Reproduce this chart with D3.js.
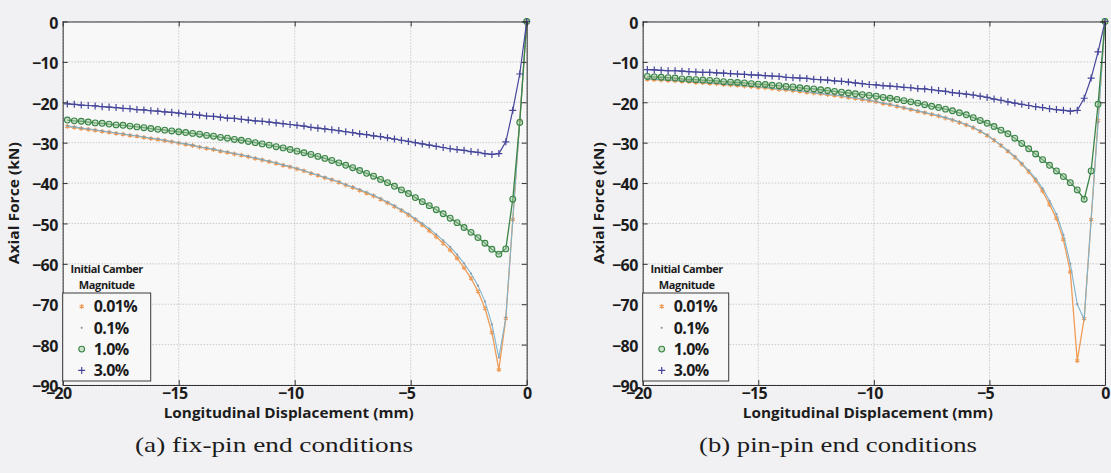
<!DOCTYPE html>
<html>
<head>
<meta charset="utf-8">
<script src="https://cdn.jsdelivr.net/npm/d3@7"></script>
<style>
    body { margin: 0; background: #f1f1f3; }
    .tick text { font-family: "Open Sans", Lato, sans-serif; font-weight: bold; font-size: 16px; letter-spacing: -0.6px; fill: #1c1c1c; }
    .tick line { stroke: #333; }
    .domain { stroke: #333; }
    .grid-line { stroke: #b4b4b8; stroke-width: 1; stroke-dasharray: 1,2; }
    .axis-label { font-family: "Open Sans", Lato, sans-serif; font-weight: bold; fill: #1c1c1c; }
    .caption { font-family: "Liberation Serif", "DejaVu Serif", serif; font-size: 21px; fill: #1c1c1c; }
    .legend-text { font-family: "Open Sans", Lato, sans-serif; font-weight: bold; font-size: 16px; letter-spacing: -0.6px; fill: #1c1c1c; }
    .legend-title { font-family: "Open Sans", Lato, sans-serif; font-weight: bold; font-size: 11px; letter-spacing: -0.4px; fill: #1c1c1c; }
</style>
</head>
<body>
<div id="chart"></div>
<script>
// longitudinal displacement (mm), same steps for every run
var displacement = [0, -0.3, -0.6, -0.9, -1.2, -1.5, -1.8, -2.1, -2.4, -2.7, -3.0, -3.3, -3.6, -3.9, -4.2, -4.5, -4.8,
    -5.1, -5.4, -5.7, -6.0, -6.3, -6.6, -6.9, -7.2, -7.5, -7.8, -8.1, -8.4, -8.7, -9.0, -9.3, -9.6, -9.9, -10.2, -10.5,
    -10.8, -11.1, -11.4, -11.7, -12.0, -12.3, -12.6, -12.9, -13.2, -13.5, -13.8, -14.1, -14.4, -14.7, -15.0, -15.3,
    -15.6, -15.9, -16.2, -16.5, -16.8, -17.1, -17.4, -17.7, -18.0, -18.3, -18.6, -18.9, -19.2, -19.5, -19.8];

// (a) fix-pin, axial force (kN)
var fixPin001 = [0, -24.5, -49.0, -73.5, -86.2, -77.0, -71.0, -66.8, -63.6, -61.0, -58.6, -56.6, -54.9, -53.3, -51.8,
    -50.4, -49.1, -47.9, -46.8, -45.8, -44.9, -44.0, -43.2, -42.5, -41.8, -41.1, -40.5, -39.8, -39.2, -38.7, -38.1,
    -37.6, -37.0, -36.5, -36.0, -35.6, -35.1, -34.7, -34.3, -33.9, -33.5, -33.1, -32.8, -32.4, -32.1, -31.7, -31.4,
    -31.1, -30.7, -30.4, -30.1, -29.8, -29.5, -29.2, -29.0, -28.7, -28.4, -28.2, -27.9, -27.7, -27.4, -27.2, -26.9,
    -26.7, -26.5, -26.2, -26.0];
var fixPin01 = [0, -24.6, -49.2, -73.3, -83.2, -75.0, -69.3, -65.4, -62.4, -59.9, -57.7, -55.8, -54.2, -52.7, -51.3,
    -50.0, -48.8, -47.6, -46.6, -45.6, -44.7, -43.8, -43.0, -42.3, -41.6, -41.0, -40.4, -39.7, -39.1, -38.6, -38.0,
    -37.5, -36.9, -36.4, -35.9, -35.5, -35.0, -34.6, -34.2, -33.8, -33.4, -33.0, -32.7, -32.3, -32.0, -31.6, -31.3,
    -31.0, -30.6, -30.3, -30.0, -29.7, -29.4, -29.1, -28.9, -28.6, -28.3, -28.1, -27.8, -27.6, -27.3, -27.1, -26.8,
    -26.6, -26.4, -26.1, -25.9];
var fixPin10 = [0, -25.0, -44.0, -56.3, -57.6, -56.4, -54.9, -53.5, -52.2, -51.0, -49.8, -48.7, -47.6, -46.6, -45.6,
    -44.6, -43.6, -42.6, -41.7, -40.8, -39.9, -39.1, -38.3, -37.6, -36.9, -36.2, -35.6, -35.0, -34.4, -33.9, -33.4,
    -32.9, -32.5, -32.1, -31.7, -31.3, -31.0, -30.6, -30.3, -30.0, -29.7, -29.4, -29.2, -28.9, -28.7, -28.4, -28.2,
    -27.9, -27.7, -27.5, -27.3, -27.1, -26.9, -26.7, -26.5, -26.3, -26.1, -25.9, -25.7, -25.6, -25.4, -25.2, -25.1,
    -24.9, -24.7, -24.6, -24.4];
var fixPin30 = [0, -13.0, -22.0, -29.8, -32.7, -32.9, -32.7, -32.4, -32.2, -31.9, -31.7, -31.5, -31.2, -30.9, -30.6,
    -30.3, -30.0, -29.7, -29.4, -29.1, -28.8, -28.5, -28.3, -28.0, -27.8, -27.5, -27.3, -27.0, -26.8, -26.6, -26.4,
    -26.2, -25.9, -25.7, -25.5, -25.3, -25.1, -24.9, -24.7, -24.6, -24.4, -24.2, -24.0, -23.9, -23.7, -23.5, -23.4,
    -23.2, -23.0, -22.9, -22.7, -22.5, -22.4, -22.2, -22.1, -21.9, -21.8, -21.6, -21.5, -21.3, -21.2, -21.1, -20.9,
    -20.8, -20.7, -20.5, -20.4];

// (b) pin-pin, axial force (kN)
var pinPin001 = [0, -24.5, -49.0, -73.5, -84.0, -62.0, -54.0, -48.8, -45.3, -42.0, -39.4, -37.2, -35.3, -33.6, -32.1,
    -30.7, -29.4, -28.2, -27.2, -26.3, -25.6, -25.0, -24.4, -23.9, -23.4, -23.0, -22.6, -22.2, -21.8, -21.4, -21.0,
    -20.6, -20.3, -19.9, -19.6, -19.3, -19.0, -18.8, -18.5, -18.3, -18.1, -17.9, -17.7, -17.5, -17.3, -17.1, -16.9,
    -16.8, -16.6, -16.4, -16.3, -16.1, -16.0, -15.8, -15.7, -15.6, -15.4, -15.3, -15.2, -15.1, -14.9, -14.8, -14.7,
    -14.6, -14.5, -14.4, -14.3];
var pinPin01 = [0, -25.0, -49.1, -73.8, -70.0, -60.0, -52.8, -47.7, -44.4, -41.3, -38.9, -36.9, -35.1, -33.4, -32.0,
    -30.6, -29.3, -28.1, -27.1, -26.2, -25.5, -24.9, -24.3, -23.8, -23.3, -22.9, -22.5, -22.1, -21.7, -21.3, -20.9,
    -20.5, -20.2, -19.8, -19.5, -19.2, -18.9, -18.7, -18.4, -18.2, -18.0, -17.8, -17.6, -17.4, -17.2, -17.0, -16.8,
    -16.7, -16.5, -16.3, -16.2, -16.0, -15.9, -15.7, -15.6, -15.5, -15.3, -15.2, -15.1, -15.0, -14.8, -14.7, -14.6,
    -14.5, -14.4, -14.3, -14.2];
var pinPin10 = [0, -20.5, -37.0, -44.0, -41.7, -39.9, -38.4, -37.0, -35.6, -34.2, -32.8, -31.5, -30.2, -28.9, -27.8,
    -26.9, -26.0, -25.2, -24.5, -23.8, -23.1, -22.6, -22.1, -21.7, -21.3, -21.0, -20.6, -20.2, -19.9, -19.6, -19.3,
    -19.0, -18.8, -18.5, -18.3, -18.1, -17.9, -17.7, -17.5, -17.3, -17.1, -16.9, -16.7, -16.6, -16.4, -16.2, -16.1,
    -15.9, -15.8, -15.6, -15.5, -15.4, -15.2, -15.1, -15.0, -14.9, -14.7, -14.6, -14.5, -14.4, -14.3, -14.2, -14.0,
    -13.9, -13.8, -13.7, -13.6];
var pinPin30 = [0, -7.5, -14.0, -19.0, -22.0, -22.2, -22.0, -21.8, -21.6, -21.3, -21.1, -20.8, -20.5, -20.2, -19.9,
    -19.5, -19.2, -18.8, -18.5, -18.2, -18.0, -17.8, -17.6, -17.3, -17.1, -16.9, -16.7, -16.6, -16.4, -16.3, -16.1,
    -16.0, -15.9, -15.7, -15.6, -15.4, -15.2, -15.0, -14.8, -14.7, -14.5, -14.4, -14.3, -14.1, -14.0, -13.9, -13.8,
    -13.6, -13.5, -13.4, -13.3, -13.2, -13.1, -13.0, -12.9, -12.8, -12.7, -12.6, -12.6, -12.5, -12.4, -12.3, -12.2,
    -12.2, -12.1, -12.0, -11.9];

var camberLabels = ["0.01%", "0.1%", "1.0%", "3.0%"];
var forceTicks = [0, -10, -20, -30, -40, -50, -60, -70, -80, -90];
var dispTicks = [-20, -15, -10, -5, 0];
var xTitle = "Longitudinal Displacement (mm)";
var yTitle = "Axial Force (kN)";
var legendTitle = ["Initial Camber", "Magnitude"];
var captions = ["(a)  fix-pin end conditions", "(b)  pin-pin end conditions"];

// look of each camber run
var seriesStyle = [
    {color: "#ee9c58", width: 1.3, marker: "asterisk"},
    {color: "#7fb4cc", width: 1.1, marker: "dot"},
    {color: "#3a8446", width: 1.3, marker: "circle"},
    {color: "#46469a", width: 1.2, marker: "plus"}
];

var svg = d3.select("#chart").append("svg")
    .attr("width", 1111)
    .attr("height", 473);

function drawMarkers(g, pts, style, x, y) {
    var sel = g.selectAll(".m").data(pts).enter();
    if (style.marker === "circle") {
        sel.append("circle")
            .attr("cx", function(d) { return x(d.x); })
            .attr("cy", function(d) { return y(d.y); })
            .attr("r", 2.9)
            .attr("fill", "#9fc7a0")
            .attr("fill-opacity", 0.5)
            .attr("stroke", style.color)
            .attr("stroke-width", 1.1);
    } else if (style.marker === "dot") {
        sel.append("circle")
            .attr("cx", function(d) { return x(d.x); })
            .attr("cy", function(d) { return y(d.y); })
            .attr("r", 1.1)
            .attr("fill", "#8a9aa6");
    } else {
        var type = style.marker === "plus" ? (d3.symbolPlus || d3.symbolCross) : (d3.symbolAsterisk || d3.symbolStar);
        var sym = d3.symbol().type(type).size(style.marker === "plus" ? 18 : 16);
        sel.append("path")
            .attr("transform", function(d) { return "translate(" + x(d.x) + "," + y(d.y) + ")"; })
            .attr("d", sym)
            .attr("fill", d3.symbolPlus ? "none" : style.color)
            .attr("stroke", style.color)
            .attr("stroke-width", 1.2);
    }
}

function drawPanel(panel) {
    var width = panel.width, height = panel.height;

    var x = d3.scaleLinear().domain([-20, 0]).range([0, width]);
    var y = d3.scaleLinear().domain([-90, 0]).range([height, 0]);

    var g = svg.append("g")
        .attr("transform", "translate(" + panel.left + "," + panel.top + ")");

    g.append("rect")
        .attr("width", width)
        .attr("height", height)
        .attr("fill", "#f8f8f9");

    // dotted grid
    g.selectAll(".vgrid").data(dispTicks).enter().append("line")
        .attr("class", "grid-line")
        .attr("x1", function(d) { return x(d); }).attr("x2", function(d) { return x(d); })
        .attr("y1", 0).attr("y2", height);
    g.selectAll(".hgrid").data(forceTicks).enter().append("line")
        .attr("class", "grid-line")
        .attr("x1", 0).attr("x2", width)
        .attr("y1", function(d) { return y(d); }).attr("y2", function(d) { return y(d); });

    var line = d3.line()
        .x(function(d) { return x(d.x); })
        .y(function(d) { return y(d.y); });

    panel.series.forEach(function(values, i) {
        var pts = displacement.map(function(dx, k) { return {x: dx, y: values[k]}; });
        var style = seriesStyle[i];
        var sg = g.append("g").attr("class", "series");
        sg.append("path")
            .attr("d", line(pts))
            .attr("fill", "none")
            .attr("stroke", style.color)
            .attr("stroke-width", style.width);
        drawMarkers(sg, pts, style, x, y);
    });

    // axes, ticks pointing inwards on all four sides
    g.append("g")
        .attr("transform", "translate(0," + height + ")")
        .call(d3.axisBottom(x).tickValues(dispTicks).tickSizeInner(-5).tickSizeOuter(0).tickPadding(3))
        .selectAll("text")
        .attr("dx", function(d) { return d < 0 ? "-0.28em" : 0; });
    g.append("g")
        .call(d3.axisTop(x).tickValues(dispTicks).tickSizeInner(-5).tickSizeOuter(0).tickFormat(""));
    g.append("g")
        .call(d3.axisLeft(y).tickValues(forceTicks).tickSizeInner(-5).tickSizeOuter(0).tickPadding(5))
        .selectAll("text")
        .attr("dy", "0.42em");
    g.append("g")
        .attr("transform", "translate(" + width + ",0)")
        .call(d3.axisRight(y).tickValues(forceTicks).tickSizeInner(-5).tickSizeOuter(0).tickFormat(""));

    g.append("text")
        .attr("class", "axis-label")
        .attr("x", width / 2 - 6)
        .attr("y", height + 33)
        .attr("text-anchor", "middle")
        .style("font-size", "14px")
        .attr("textLength", 250)
        .attr("lengthAdjust", "spacingAndGlyphs")
        .text(xTitle);

    g.append("text")
        .attr("class", "axis-label")
        .attr("transform", "translate(" + panel.yTitleX + "," + (height / 2) + ") rotate(-90)")
        .attr("text-anchor", "middle")
        .attr("dy", "0.35em")
        .style("font-size", "15px")
        .attr("textLength", 122)
        .attr("lengthAdjust", "spacingAndGlyphs")
        .text(yTitle);

    // legend
    var lg = g.append("g").attr("class", "legend");
    var boxTop = 271.5, rowGap = 21.3;
    lg.append("rect")
        .attr("x", 0)
        .attr("y", boxTop)
        .attr("width", panel.legendWidth)
        .attr("height", 88)
        .attr("fill", "#f8f8f9")
        .attr("stroke", "#3a3a3a")
        .attr("stroke-width", 1);
    legendTitle.forEach(function(t, i) {
        lg.append("text")
            .attr("class", "legend-title")
            .attr("x", 44)
            .attr("y", boxTop - 20 + i * 16)
            .attr("text-anchor", "middle")
            .text(t);
    });
    camberLabels.forEach(function(label, i) {
        var cy = boxTop + 13.5 + i * rowGap;
        var style = seriesStyle[i];
        drawMarkers(lg.append("g"), [{x: -20, y: 0}], style,
            function() { return 19; }, function() { return cy; });
        lg.append("text")
            .attr("class", "legend-text")
            .attr("x", 31)
            .attr("y", cy)
            .attr("dy", "0.36em")
            .text(label);
    });

    svg.append("text")
        .attr("class", "caption")
        .attr("x", panel.captionX)
        .attr("y", 452)
        .attr("text-anchor", "middle")
        .attr("textLength", 278)
        .attr("lengthAdjust", "spacingAndGlyphs")
        .text(panel.caption);
}

drawPanel({left: 62.7, top: 21.5, width: 464, height: 363.5,
    series: [fixPin001, fixPin01, fixPin10, fixPin30],
    yTitleX: -49, legendWidth: 88, caption: captions[0], captionX: 274});
drawPanel({left: 642.7, top: 21.5, width: 462.3, height: 363.5,
    series: [pinPin001, pinPin01, pinPin10, pinPin30],
    yTitleX: -44, legendWidth: 86, caption: captions[1], captionX: 838});
</script>
</body>
</html>
